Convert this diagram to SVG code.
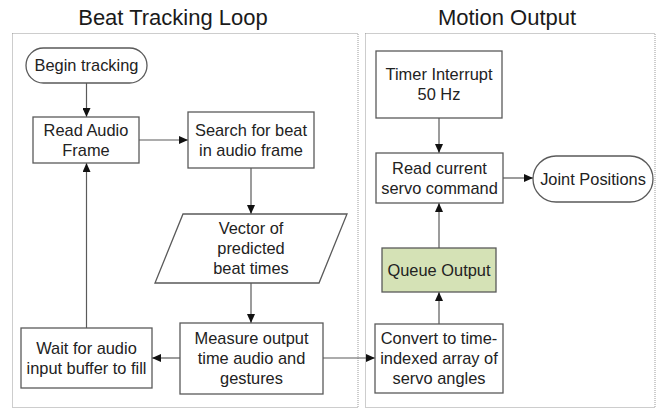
<svg xmlns="http://www.w3.org/2000/svg" width="657" height="411" viewBox="0 0 657 411">
  <style>
    .panel { fill: none; stroke: #9a9a9a; stroke-width: 1; stroke-dasharray: 1 1; }
    .title { font-family: "Liberation Sans", Arial, sans-serif; font-size: 22px; fill: #1a1a1a; text-anchor: middle; }
    .box { fill: #ffffff; stroke: #5a5a5a; stroke-width: 1.3; }
    .queue { fill: #d5e2b6; stroke: #5a5a5a; stroke-width: 1.3; }
    .lbl { font-family: "Liberation Sans", Arial, sans-serif; font-size: 16.4px; fill: #222222; text-anchor: middle; }
    .link { fill: none; stroke: #5a5a5a; stroke-width: 1.2; marker-end: url(#arrow); }
  </style>
  <defs>
    <marker id="arrow" markerUnits="userSpaceOnUse" markerWidth="9" markerHeight="8" refX="9" refY="4" orient="auto">
      <path d="M0,0 L9,4 L0,8 Z" fill="#111111"/>
    </marker>
  </defs>

  <rect width="657" height="411" fill="#ffffff"/>

  <!-- swimlane panels -->
  <g id="panel-beat">
    <rect class="panel" x="12.5" y="33.5" width="345.5" height="374"/>
    <text class="title" x="173" y="25">Beat Tracking Loop</text>
  </g>
  <g id="panel-motion">
    <rect class="panel" x="365.5" y="33.5" width="289.5" height="374"/>
    <text class="title" x="507" y="25">Motion Output</text>
  </g>

  <!-- connectors -->
  <g id="connectors">
    <line class="link" x1="86.5" y1="83" x2="86.5" y2="117"/>
    <line class="link" x1="139" y1="140" x2="188" y2="140"/>
    <line class="link" x1="251" y1="168" x2="251" y2="214"/>
    <line class="link" x1="251" y1="283" x2="251" y2="323"/>
    <line class="link" x1="180" y1="358" x2="152" y2="358"/>
    <line class="link" x1="86.5" y1="328" x2="86.5" y2="163"/>
    <line class="link" x1="323" y1="358" x2="375" y2="358"/>
    <line class="link" x1="439" y1="324" x2="439" y2="292"/>
    <line class="link" x1="439" y1="248" x2="439" y2="203"/>
    <line class="link" x1="439" y1="118" x2="439" y2="153"/>
    <line class="link" x1="503" y1="178" x2="533" y2="178"/>
  </g>

  <!-- beat tracking nodes -->
  <g id="begin-tracking">
    <rect class="box" x="26" y="48" width="121" height="35" rx="17.5"/>
    <text class="lbl" x="86.5" y="71.4">Begin tracking</text>
  </g>
  <g id="read-audio-frame">
    <rect class="box" x="33" y="117" width="106" height="46"/>
    <text class="lbl" x="86" y="135.9">Read Audio</text>
    <text class="lbl" x="86" y="155.9">Frame</text>
  </g>
  <g id="search-beat">
    <rect class="box" x="188" y="112" width="126" height="56"/>
    <text class="lbl" x="251" y="135.9">Search for beat</text>
    <text class="lbl" x="251" y="155.9">in audio frame</text>
  </g>
  <g id="beat-times">
    <polygon class="box" points="183,214 347,214 319,283 155,283"/>
    <text class="lbl" x="251" y="234.4">Vector of</text>
    <text class="lbl" x="251" y="254.4">predicted</text>
    <text class="lbl" x="251" y="274.4">beat times</text>
  </g>
  <g id="measure-output">
    <rect class="box" x="180" y="323" width="143" height="71"/>
    <text class="lbl" x="251.5" y="344.4">Measure output</text>
    <text class="lbl" x="251.5" y="364.4">time audio and</text>
    <text class="lbl" x="251.5" y="384.4">gestures</text>
  </g>
  <g id="wait-buffer">
    <rect class="box" x="21" y="328" width="131" height="60"/>
    <text class="lbl" x="86.5" y="353.9">Wait for audio</text>
    <text class="lbl" x="86.5" y="373.9">input buffer to fill</text>
  </g>

  <!-- motion output nodes -->
  <g id="timer-interrupt">
    <rect class="box" x="376" y="51" width="126" height="67"/>
    <text class="lbl" x="439" y="80.4">Timer Interrupt</text>
    <text class="lbl" x="439" y="100.4">50 Hz</text>
  </g>
  <g id="read-servo-command">
    <rect class="box" x="376" y="153" width="127" height="50"/>
    <text class="lbl" x="439.5" y="173.9">Read current</text>
    <text class="lbl" x="439.5" y="193.9">servo command</text>
  </g>
  <g id="joint-positions">
    <rect class="box" x="533" y="156" width="120" height="46" rx="23"/>
    <text class="lbl" x="593" y="184.9">Joint Positions</text>
  </g>
  <g id="queue-output">
    <rect class="queue" x="382" y="248" width="114" height="44"/>
    <text class="lbl" x="439" y="275.9">Queue Output</text>
  </g>
  <g id="convert-angles">
    <rect class="box" x="375" y="324" width="128" height="69"/>
    <text class="lbl" x="439" y="344.4">Convert to time-</text>
    <text class="lbl" x="439" y="364.4">indexed array of</text>
    <text class="lbl" x="439" y="384.4">servo angles</text>
  </g>
</svg>
